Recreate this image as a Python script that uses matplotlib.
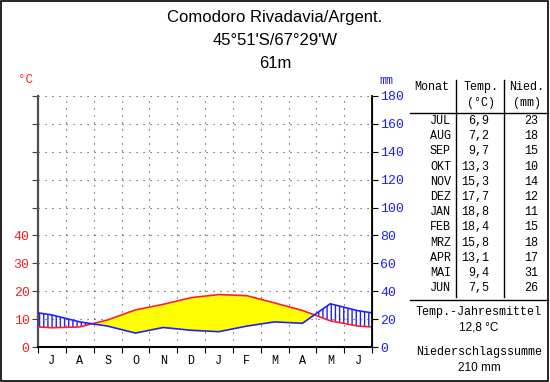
import numpy as np
import matplotlib
matplotlib.use("Agg")
import matplotlib.pyplot as plt
from matplotlib.patches import Rectangle

# Klimadaten Comodoro Rivadavia (Jul..Jun)
months_tab = ["JUL", "AUG", "SEP", "OKT", "NOV", "DEZ", "JAN", "FEB", "MRZ", "APR", "MAI", "JUN"]
months_ax = ["J", "A", "S", "O", "N", "D", "J", "F", "M", "A", "M", "J"]
temp = [6.9, 7.2, 9.7, 13.3, 15.3, 17.7, 18.8, 18.4, 15.8, 13.1, 9.4, 7.5]
prec = [23, 18, 15, 10, 14, 12, 11, 15, 18, 17, 31, 26]
temp_ticks = [0, 10, 20, 30, 40]
prec_ticks = [0, 20, 40, 60, 80, 100, 120, 140, 160, 180]
mean_temp = "12,8 °C"
sum_prec = "210 mm"

RED = "#ff2020"
BLUE = "#2020ff"
MONO = ["Liberation Mono", "DejaVu Sans Mono"]
DOTS = (0, (1, 5.3))

fig = plt.figure(figsize=(5.5, 3.82), dpi=100)
fig.add_artist(Rectangle((0.002, 0.003), 0.995, 0.994, transform=fig.transFigure,
                         fill=False, edgecolor="black", lw=1.2))

fig.text(0.5, 0.955, "Comodoro Rivadavia/Argent.", ha="center", va="center",
         fontsize=12, family="Liberation Sans")
fig.text(0.5, 0.893, "45°51'S/67°29'W", ha="center", va="center",
         fontsize=12, family="Liberation Sans")
fig.text(0.5, 0.835, "61m", ha="center", va="center", fontsize=12, family="Liberation Sans")

ax = fig.add_axes([38 / 550, 35 / 382, 334 / 550, 251 / 382])

# Werte in Monatsmitte, Ränder zyklisch (Jun/Jul) gemittelt
x = np.r_[0, np.arange(12) + 0.5, 12]
t = np.r_[(temp[-1] + temp[0]) / 2, temp, (temp[-1] + temp[0]) / 2]
p = np.array(prec, dtype=float) / 2  # Walter-Lieth: 10 °C = 20 mm
p = np.r_[(p[-1] + p[0]) / 2, p, (p[-1] + p[0]) / 2]

ax.fill_between(x, t, p, where=t >= p, interpolate=True, color="#ffff00", lw=0, zorder=2)
plt.rcParams["hatch.linewidth"] = 1.0
ax.fill_between(x, t, p, where=p >= t, interpolate=True, facecolor="none",
                edgecolor=BLUE, hatch="||||", lw=0, zorder=2)
ax.plot(x, t, color=RED, lw=1.2, zorder=3)
ax.plot(x, p, color=BLUE, lw=1.2, zorder=3)

ax.set_xlim(0, 12)
ax.set_ylim(0, 90)
for lv in range(10, 91, 10):
    ax.axhline(lv, color="#404040", lw=0.8, ls=DOTS, zorder=1)
for b in range(1, 12):
    ax.axvline(b, color="#404040", lw=0.8, ls=DOTS, zorder=1)

ax.set_yticks(range(0, 91, 10))
ax.set_yticklabels([str(v) if v in temp_ticks else "" for v in range(0, 91, 10)],
                   color=RED, fontsize=9.5, family=MONO)
ax.tick_params(axis="y", length=4, color="#404040", pad=2)
ax.set_xticks(range(0, 13))
ax.set_xticklabels([])
ax.set_xticks(np.arange(12) + 0.5, minor=True)
ax.set_xticklabels(months_ax, minor=True, fontsize=8.5, family=MONO)
ax.tick_params(axis="x", which="major", length=4, color="black")
ax.tick_params(axis="x", which="minor", length=0, pad=6)
ax.spines["top"].set_visible(False)
ax.spines["left"].set_color("#505050")
ax.spines["right"].set_color("black")
ax.spines["left"].set_linewidth(1.6)
ax.spines["bottom"].set_linewidth(1.5)

ax2 = ax.twinx()
ax2.set_ylim(0, 180)
ax2.set_yticks(prec_ticks)
ax2.set_yticklabels([str(v) for v in prec_ticks], color=BLUE, fontsize=9.5, family=MONO)
ax2.tick_params(axis="y", length=4, color="black", pad=2)
for s in ["top", "left", "bottom"]:
    ax2.spines[s].set_visible(False)
ax2.spines["right"].set_color("black")
ax2.spines["right"].set_linewidth(1.3)

fig.text(25 / 550, 1 - 80 / 382, "°C", color=RED, fontsize=9, family=MONO, ha="center", va="center")
fig.text(386 / 550, 1 - 81 / 382, "mm", color=BLUE, fontsize=8.5, family=MONO, ha="center", va="center")

# Tabelle
def fx(px):
    return px / 550

def fy(py):
    return 1 - py / 382

tk = dict(fontsize=8.5, family=MONO, va="center")
fig.text(fx(432), fy(87), "Monat", ha="center", **tk)
fig.text(fx(481), fy(87), "Temp.", ha="center", **tk)
fig.text(fx(527), fy(87), "Nied.", ha="center", **tk)
fig.text(fx(481), fy(103), "(°C)", ha="center", **tk)
fig.text(fx(527), fy(103), "(mm)", ha="center", **tk)
for i, (m, tv, pv) in enumerate(zip(months_tab, temp, prec)):
    yy = fy(121 + i * 15.2)
    fig.text(fx(451), yy, m, ha="right", **tk)
    fig.text(fx(489), yy, f"{tv:.1f}".replace(".", ","), ha="right", **tk)
    fig.text(fx(538), yy, str(pv), ha="right", **tk)
fig.add_artist(plt.Line2D([fx(410), fx(548)], [fy(113), fy(113)], color="black", lw=1))
fig.add_artist(plt.Line2D([fx(410), fx(548)], [fy(300), fy(300)], color="black", lw=1))
for vx in (456, 504):
    fig.add_artist(plt.Line2D([fx(vx), fx(vx)], [fy(80), fy(297)], color="black", lw=1))
fig.text(fx(479), fy(312), "Temp.-Jahresmittel", ha="center", **tk)
fig.text(fx(479), fy(328), mean_temp, ha="center", fontsize=8.5, family="Liberation Sans", va="center")
fig.text(fx(479), fy(352), "Niederschlagssumme", ha="center", **tk)
fig.text(fx(479), fy(368), sum_prec, ha="center", fontsize=8.5, family="Liberation Sans", va="center")

fig.savefig("out.png", dpi=100)
